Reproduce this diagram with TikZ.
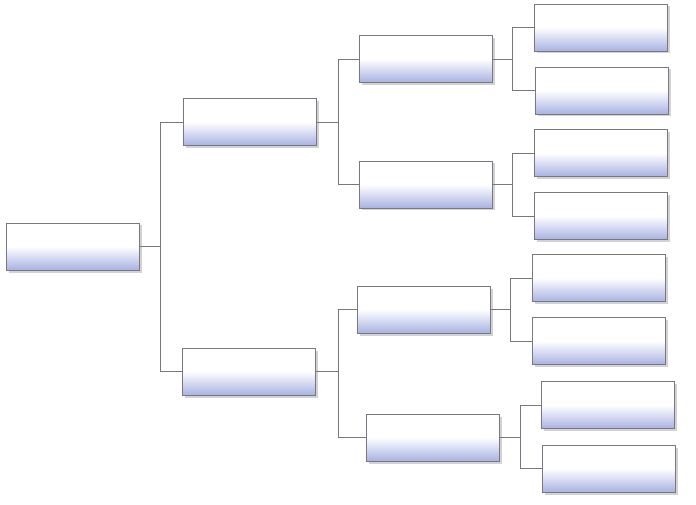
\documentclass[tikz,border=0pt]{standalone}
\usetikzlibrary{shadows}
\definecolor{boxblue}{RGB}{168,178,226}
\definecolor{boxedge}{RGB}{120,120,130}
\definecolor{linegray}{RGB}{120,120,120}
\tikzset{
  tbox/.style={draw=boxedge, line width=0.8pt, minimum width=133pt, minimum height=47pt, inner sep=0pt,
    top color=white, bottom color=boxblue, middle color=white,
    drop shadow={shadow xshift=2.5pt, shadow yshift=-2.5pt, fill=black!35}},
  conn/.style={draw=linegray, line width=0.8pt}
}
\begin{document}
\begin{tikzpicture}[x=1pt,y=-1pt]
\useasboundingbox (0,0) rectangle (696,505);
\fill[white] (0,0) rectangle (696,505);
% nodes
\node[tbox] (root) at (73,246.5) {};
\node[tbox] (t1) at (250,122) {};
\node[tbox] (b1) at (249,371.5) {};
\node[tbox] (a2) at (426,59) {};
\node[tbox] (b2) at (426,184.5) {};
\node[tbox] (c2) at (424,309.5) {};
\node[tbox] (d2) at (433,437.5) {};
\node[tbox] (l1) at (601,27.5) {};
\node[tbox] (l2) at (601.5,90.5) {};
\node[tbox] (l3) at (600.5,153) {};
\node[tbox] (l4) at (600.5,216) {};
\node[tbox] (l5) at (598.5,278) {};
\node[tbox] (l6) at (598.5,341) {};
\node[tbox] (l7) at (608,405) {};
\node[tbox] (l8) at (608.5,468.5) {};
% junctions
\coordinate (j0) at (160,246.5);
\coordinate (j1) at (338,122);
\coordinate (j2) at (338,371.5);
\coordinate (j3) at (512,59);
\coordinate (j4) at (512,184.5);
\coordinate (j5) at (510,309.5);
\coordinate (j6) at (520,437.5);
% connectors
\draw[conn] (root.east) -- (j0) |- (t1.west);
\draw[conn] (j0) |- (b1.west);
\draw[conn] (t1.east) -- (j1) |- (a2.west);
\draw[conn] (j1) |- (b2.west);
\draw[conn] (b1.east) -- (j2) |- (c2.west);
\draw[conn] (j2) |- (d2.west);
\draw[conn] (a2.east) -- (j3) |- (l1.west);
\draw[conn] (j3) |- (l2.west);
\draw[conn] (b2.east) -- (j4) |- (l3.west);
\draw[conn] (j4) |- (l4.west);
\draw[conn] (c2.east) -- (j5) |- (l5.west);
\draw[conn] (j5) |- (l6.west);
\draw[conn] (d2.east) -- (j6) |- (l7.west);
\draw[conn] (j6) |- (l8.west);
\end{tikzpicture}
\end{document}
